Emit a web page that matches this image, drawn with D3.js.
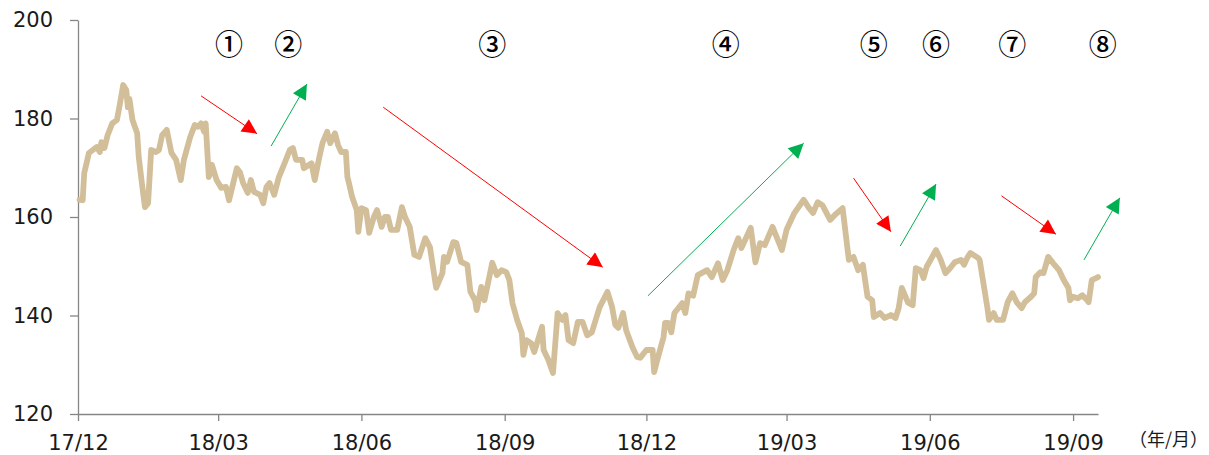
<!DOCTYPE html>
<html>
<head>
<meta charset="utf-8">
<script src="https://cdn.jsdelivr.net/npm/d3@7"></script>
<style>
  html, body { margin: 0; padding: 0; background: #ffffff; }
  svg { display: block; }
</style>
</head>
<body>
<svg id="chart" width="1209" height="455"></svg>
<script>
// ---- data ----
const dates = [
  "2017-12-02","2017-12-04","2017-12-05","2017-12-08","2017-12-13","2017-12-15","2017-12-16","2017-12-18","2017-12-20","2017-12-23",
  "2017-12-26","2017-12-28","2017-12-30","2018-01-01","2018-01-02","2018-01-03","2018-01-05","2018-01-08","2018-01-09","2018-01-11",
  "2018-01-13","2018-01-15","2018-01-17","2018-01-20","2018-01-22","2018-01-24","2018-01-27","2018-01-30","2018-02-02","2018-02-05",
  "2018-02-07","2018-02-11","2018-02-14","2018-02-16","2018-02-18","2018-02-20","2018-02-21","2018-02-23","2018-02-25","2018-02-28",
  "2018-03-03","2018-03-06","2018-03-08","2018-03-13","2018-03-15","2018-03-17","2018-03-20","2018-03-22","2018-03-24","2018-03-28",
  "2018-03-30","2018-04-01","2018-04-03","2018-04-06","2018-04-09","2018-04-13","2018-04-16","2018-04-18","2018-04-20","2018-04-24",
  "2018-04-25","2018-04-30","2018-05-02","2018-05-05","2018-05-07","2018-05-10","2018-05-12","2018-05-15","2018-05-17","2018-05-19",
  "2018-05-22","2018-05-23","2018-05-24","2018-05-26","2018-05-29","2018-05-30","2018-06-01","2018-06-04","2018-06-06","2018-06-09",
  "2018-06-11","2018-06-14","2018-06-16","2018-06-18","2018-06-20","2018-06-24","2018-06-27","2018-06-29","2018-07-02","2018-07-05",
  "2018-07-08","2018-07-12","2018-07-15","2018-07-19","2018-07-23","2018-07-24","2018-07-26","2018-07-30","2018-08-01","2018-08-04",
  "2018-08-08","2018-08-10","2018-08-13","2018-08-14","2018-08-17","2018-08-19","2018-08-24","2018-08-27","2018-08-30","2018-09-02",
  "2018-09-04","2018-09-06","2018-09-09","2018-09-12","2018-09-13","2018-09-15","2018-09-18","2018-09-20","2018-09-25","2018-09-26",
  "2018-09-29","2018-10-02","2018-10-05","2018-10-08","2018-10-10","2018-10-12","2018-10-15","2018-10-18","2018-10-21","2018-10-24",
  "2018-10-27","2018-10-30","2018-11-01","2018-11-06","2018-11-09","2018-11-11","2018-11-13","2018-11-16","2018-11-18","2018-11-22",
  "2018-11-25","2018-11-27","2018-12-01","2018-12-05","2018-12-06","2018-12-08","2018-12-12","2018-12-13","2018-12-15","2018-12-17",
  "2018-12-19","2018-12-24","2018-12-26","2018-12-28","2018-12-31","2019-01-03","2019-01-09","2019-01-12","2019-01-16","2019-01-19",
  "2019-01-22","2019-01-26","2019-01-29","2019-01-31","2019-02-06","2019-02-09","2019-02-12","2019-02-15","2019-02-20","2019-02-26",
  "2019-03-01","2019-03-06","2019-03-12","2019-03-15","2019-03-18","2019-03-21","2019-03-24","2019-03-29","2019-04-01","2019-04-06",
  "2019-04-10","2019-04-13","2019-04-16","2019-04-19","2019-04-22","2019-04-25","2019-04-26","2019-04-30","2019-05-03","2019-05-07",
  "2019-05-10","2019-05-12","2019-05-14","2019-05-18","2019-05-21","2019-05-23","2019-05-26","2019-05-28","2019-05-30","2019-06-05",
  "2019-06-08","2019-06-11","2019-06-14","2019-06-17","2019-06-21","2019-06-23","2019-06-25","2019-06-27","2019-07-02","2019-07-03",
  "2019-07-08","2019-07-09","2019-07-12","2019-07-14","2019-07-18","2019-07-21","2019-07-24","2019-07-27","2019-07-30","2019-08-01",
  "2019-08-05","2019-08-07","2019-08-08","2019-08-11","2019-08-13","2019-08-16","2019-08-19","2019-08-23","2019-08-26","2019-08-29",
  "2019-08-30","2019-09-01","2019-09-04","2019-09-07","2019-09-10","2019-09-11","2019-09-13","2019-09-17"
];
const values = [
  163.5,163.4,168.9,173.0,174.2,173.2,175.2,174.0,176.6,179.0,
  179.7,183.1,186.8,185.8,182.3,184.0,179.7,177.0,172.2,166.9,
  162.0,162.8,173.6,173.2,173.6,176.6,177.7,173.0,171.6,167.5,
  171.6,176.2,178.7,178.3,179.0,177.3,179.0,168.1,170.6,167.5,
  165.9,166.1,163.4,169.9,169.1,166.9,164.9,167.5,165.1,164.5,
  162.8,166.1,166.9,164.5,168.1,171.2,173.6,174.0,171.6,171.6,
  169.9,170.9,167.5,172.2,175.0,177.3,175.0,177.0,174.6,173.2,
  173.2,168.1,166.9,164.1,161.4,157.0,161.8,161.4,156.8,160.0,
  161.4,158.0,160.0,160.0,157.4,157.4,162.0,160.0,158.0,152.3,
  151.9,155.7,153.9,145.6,148.6,151.9,150.9,154.9,154.7,150.9,
  150.3,144.8,143.1,141.1,145.8,143.1,150.7,148.2,149.2,148.8,
  147.2,142.5,139.1,136.4,132.0,135.0,134.4,132.6,137.7,133.0,
  131.0,128.3,140.5,139.1,140.1,135.0,134.4,138.7,138.7,136.0,
  136.6,139.7,141.7,144.8,141.7,138.1,137.5,140.5,137.0,133.6,
  131.6,131.4,133.0,133.0,128.5,131.0,135.6,138.5,138.5,136.6,
  140.5,142.5,140.5,144.5,144.0,148.2,149.2,147.8,150.6,147.2,
  149.2,153.3,155.7,153.7,157.8,150.8,154.7,154.3,158.0,153.3,
  157.4,160.8,163.5,162.0,160.8,163.0,162.4,159.4,160.4,161.8,
  151.3,151.9,149.2,150.3,143.8,143.1,139.7,140.5,139.5,140.1,
  139.5,141.5,145.6,142.6,142.1,149.6,149.2,147.6,149.9,153.3,
  151.3,148.6,149.6,150.8,151.3,150.3,151.7,152.7,151.7,151.3,
  141.5,139.1,140.5,139.1,139.1,142.7,144.5,142.6,141.5,142.7,
  143.8,144.5,147.8,148.8,148.6,151.9,150.7,149.2,147.2,145.6,
  143.1,143.8,143.5,144.1,143.1,142.7,147.2,147.8
];

const xTickDates  = ["2017-12-01","2018-03-01","2018-06-01","2018-09-01","2018-12-01","2019-03-01","2019-06-01","2019-09-01"];
const xTickLabels = ["17/12","18/03","18/06","18/09","18/12","19/03","19/06","19/09"];
const yTicks = [120, 140, 160, 180, 200];
const xUnitLabel = "（年/月）";

// phase markers: label, date, value level
const phaseLabels = ["①","②","③","④","⑤","⑥","⑦","⑧"];
const phaseDates  = ["2018-03-08","2018-04-15","2018-08-24","2019-01-21","2019-04-26","2019-06-05","2019-07-24","2019-09-20"];
const phaseLevel = 195.3;

// trend arrows: [startDate, startValue, endDate, endValue, direction]
const arrowStartDates = ["2018-02-18","2018-04-04","2018-06-15","2018-12-02","2019-04-13","2019-05-13","2019-07-17","2019-09-08"];
const arrowStartVals  = [184.6, 174.4, 182.3, 144.0, 167.9, 154.1, 164.3, 151.3];
const arrowEndDates   = ["2018-03-26","2018-04-27","2018-11-03","2019-03-12","2019-05-07","2019-06-05","2019-08-21","2019-10-01"];
const arrowEndVals    = [176.9, 187.0, 149.8, 175.0, 157.0, 166.7, 156.5, 163.9];
const arrowDirs       = ["down","up","down","up","down","up","down","up"];

// ---- chart ----
const parse = d3.timeParse("%Y-%m-%d");
const series = dates.map((d, i) => ({ date: parse(d), value: values[i] }));

const svg = d3.select("#chart");
const margin = { left: 78, right: 1098, top: 20, bottom: 414 };

const x = d3.scaleTime()
  .domain([parse("2017-12-01"), parse("2019-09-17")])
  .range([margin.left, margin.right]);
const y = d3.scaleLinear()
  .domain([120, 200])
  .range([margin.bottom, margin.top]);

const axisColor = "#868686";
const fontMain = "'DejaVu Sans', Verdana, sans-serif";

// y axis
const yAxis = d3.axisLeft(y).tickValues(yTicks).tickSize(8).tickSizeOuter(0).tickPadding(17).tickFormat(d3.format("d"));
const gy = svg.append("g").attr("transform", `translate(${margin.left},0)`).call(yAxis);
gy.selectAll("path, line").attr("stroke", axisColor).attr("stroke-width", 1.3);
gy.selectAll("text").attr("font-family", fontMain).attr("font-size", 21).attr("fill", "#1a1a1a");

// x axis
const xAxis = d3.axisBottom(x)
  .tickValues(xTickDates.map(parse))
  .tickSize(7).tickSizeOuter(0).tickPadding(14)
  .tickFormat((d, i) => xTickLabels[i]);
const gx = svg.append("g").attr("transform", `translate(0,${margin.bottom})`).call(xAxis);
gx.selectAll("path, line").attr("stroke", axisColor).attr("stroke-width", 1.3);
gx.selectAll("text").attr("font-family", fontMain).attr("font-size", 21).attr("fill", "#1a1a1a");

svg.append("text")
  .attr("x", 1208).attr("y", 446)
  .attr("text-anchor", "end")
  .attr("font-family", "'Noto Sans CJK JP', sans-serif")
  .attr("font-size", 18).attr("fill", "#1a1a1a")
  .text(xUnitLabel);

// price line
const line = d3.line().x(d => x(d.date)).y(d => y(d.value));
svg.append("path")
  .datum(series)
  .attr("fill", "none")
  .attr("stroke", "#d2bf99")
  .attr("stroke-width", 5.8)
  .attr("stroke-linejoin", "round")
  .attr("stroke-linecap", "round")
  .attr("d", line);

// arrows
const defs = svg.append("defs");
const colors = { down: "#ff0000", up: "#00b050" };
Object.entries(colors).forEach(([k, c]) => {
  defs.append("marker")
    .attr("id", "head-" + k)
    .attr("viewBox", "0 0 10 10")
    .attr("refX", 10).attr("refY", 5)
    .attr("markerUnits", "userSpaceOnUse")
    .attr("markerWidth", 18).attr("markerHeight", 15)
    .attr("orient", "auto")
    .append("path")
    .attr("d", "M0,0 L10,5 L0,10 Z")
    .attr("fill", c);
});
arrowDirs.forEach((dir, i) => {
  svg.append("line")
    .attr("x1", x(parse(arrowStartDates[i])))
    .attr("y1", y(arrowStartVals[i]))
    .attr("x2", x(parse(arrowEndDates[i])))
    .attr("y2", y(arrowEndVals[i]))
    .attr("stroke", colors[dir])
    .attr("stroke-width", 1)
    .attr("marker-end", `url(#head-${dir})`);
});

// phase labels
svg.append("g").selectAll("text")
  .data(phaseLabels)
  .join("text")
  .attr("x", (d, i) => x(parse(phaseDates[i])))
  .attr("y", y(phaseLevel))
  .attr("text-anchor", "middle")
  .attr("dominant-baseline", "central")
  .attr("font-family", "'Noto Sans CJK JP', sans-serif")
  .attr("font-size", 28)
  .attr("font-weight", 500)
  .attr("fill", "#000")
  .text(d => d);
</script>
</body>
</html>
